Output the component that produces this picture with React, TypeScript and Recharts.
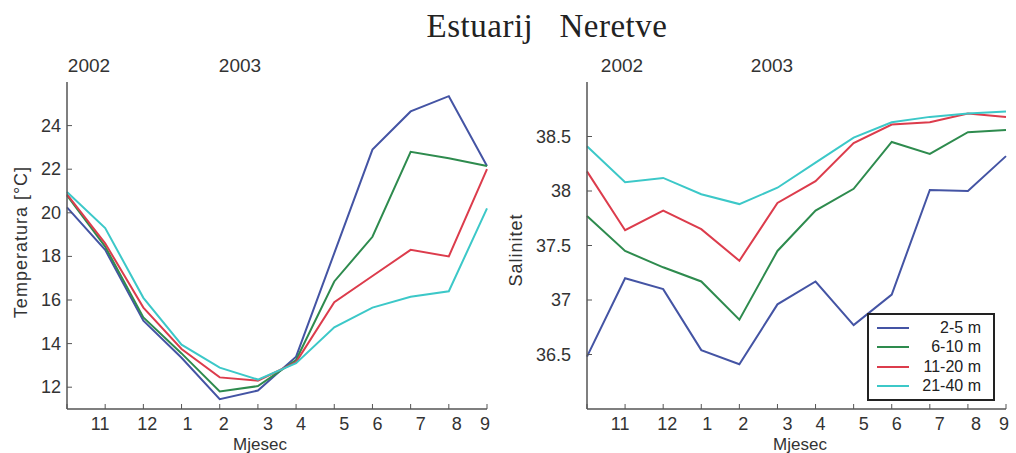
import React from 'react';
import { LineChart, Line, XAxis, YAxis, Legend } from 'recharts';

// months Oct 2002 .. Sep 2003, one sample per month
const monthLabels = ['', '11', '12', '1', '2', '3', '4', '5', '6', '7', '8', '9'];
const years = ['2002', '2003'];
const depthNames = ['2-5 m', '6-10 m', '11-20 m', '21-40 m'];

const temp2_5 = [20.25, 18.3, 15.05, 13.35, 11.45, 11.85, 13.4, 18.15, 22.9, 24.65, 25.35, 22.15];
const temp6_10 = [20.8, 18.45, 15.2, 13.55, 11.8, 12.05, 13.25, 16.85, 18.9, 22.8, 22.5, 22.15];
const temp11_20 = [20.85, 18.6, 15.65, 13.75, 12.45, 12.3, 13.15, 15.9, 17.1, 18.3, 18.0, 22.0];
const temp21_40 = [20.95, 19.3, 16.1, 13.95, 12.9, 12.35, 13.1, 14.75, 15.65, 16.15, 16.4, 20.2];

const sal2_5 = [36.48, 37.2, 37.1, 36.54, 36.41, 36.96, 37.17, 36.77, 37.05, 38.01, 38.0, 38.32];
const sal6_10 = [37.77, 37.45, 37.3, 37.17, 36.82, 37.45, 37.82, 38.02, 38.45, 38.34, 38.54, 38.56];
const sal11_20 = [38.18, 37.64, 37.82, 37.65, 37.36, 37.89, 38.09, 38.44, 38.61, 38.63, 38.71, 38.68];
const sal21_40 = [38.41, 38.08, 38.12, 37.97, 37.88, 38.03, 38.26, 38.49, 38.63, 38.68, 38.71, 38.73];

const tempTicks = [12, 14, 16, 18, 20, 22, 24];
const salTicks = [36.5, 37, 37.5, 38, 38.5];

const COLORS = ['#4454a4', '#2e8b4e', '#dc3c4c', '#3cc8c8'];
const FONT = '"Liberation Sans", Arial, Helvetica, sans-serif';
const AXIS = '#555';
const IDX = monthLabels.map((_, i) => i);
// month labels sit a little off the sample ticks in the original
const LABEL_NUDGE = [0, -5, 4, 6, 4, 10, 5, 10, 5, 10, 8, -2];

const tempData = IDX.map((i) => ({
  i,
  d0: temp2_5[i],
  d1: temp6_10[i],
  d2: temp11_20[i],
  d3: temp21_40[i],
}));
const salData = IDX.map((i) => ({
  i,
  d0: sal2_5[i],
  d1: sal6_10[i],
  d2: sal11_20[i],
  d3: sal21_40[i],
}));

const BottomTick = (props: any) => {
  const { x, y, payload } = props;
  const v = payload.value;
  return (
    <g>
      <line x1={x} x2={x} y1={y} y2={y - 5} stroke={AXIS} strokeWidth={1} />
      <text x={x + LABEL_NUDGE[v]} y={y + 15} textAnchor="middle" dominantBaseline="central"
        fontSize={18} fontFamily={FONT} fill="#333">
        {monthLabels[v]}
      </text>
    </g>
  );
};

const TopTick = (props: any) => {
  const { x, y } = props;
  return <line x1={x} x2={x} y1={y} y2={y + 5} stroke={AXIS} strokeWidth={1} />;
};

const makeLeftTick = (gap: number) => (props: any) => {
  const { x, y, payload } = props;
  return (
    <g>
      <line x1={x} x2={x + 5} y1={y} y2={y} stroke={AXIS} strokeWidth={1} />
      <text x={x - gap} y={y} textAnchor="end" dominantBaseline="central"
        fontSize={18} fontFamily={FONT} fill="#333">
        {payload.value}
      </text>
    </g>
  );
};

const RightTick = (props: any) => {
  const { x, y } = props;
  return <line x1={x} x2={x - 5} y1={y} y2={y} stroke={AXIS} strokeWidth={1} />;
};

const LegendBox = () => (
  <div style={{ border: '2px solid #222', background: '#fff', padding: '3px 12px 3px 8px', fontFamily: FONT, fontSize: 16, color: '#222' }}>
    {depthNames.map((n, k) => (
      <div key={n} style={{ display: 'flex', alignItems: 'center', height: 19.5 }}>
        <svg width={34} height={6}>
          <line x1={0} x2={32} y1={3} y2={3} stroke={COLORS[k]} strokeWidth={2} />
        </svg>
        <span style={{ flex: 1, textAlign: 'right' }}>{n}</span>
      </div>
    ))}
  </div>
);

const axisLine = { stroke: AXIS, strokeWidth: 1.5 };

const Panel = ({ data, domain, ticks, width, marginLeft, marginRight, gap, legend }: any) => (
  <LineChart width={width} height={453} data={data}
    margin={{ top: 82, right: marginRight, bottom: 14, left: marginLeft }}>
    <XAxis xAxisId="b" dataKey="i" type="number" domain={[0, 11]} ticks={IDX} height={30}
      axisLine={axisLine} tickLine={false} tickSize={0} tickMargin={0} tick={<BottomTick />} interval={0} />
    <XAxis xAxisId="t" orientation="top" dataKey="i" type="number" domain={[0, 11]} ticks={IDX} height={0}
      axisLine={axisLine} tickLine={false} tickSize={0} tickMargin={0} tick={<TopTick />} interval={0} />
    <YAxis yAxisId="l" domain={domain} ticks={ticks} width={60} allowDataOverflow
      axisLine={axisLine} tickLine={false} tickSize={0} tickMargin={0} tick={makeLeftTick(gap)} interval={0} />
    <YAxis yAxisId="r" orientation="right" domain={domain} ticks={ticks} width={0} allowDataOverflow
      axisLine={axisLine} tickLine={false} tickSize={0} tickMargin={0} tick={<RightTick />} interval={0} />
    {['d0', 'd1', 'd2', 'd3'].map((k, j) => (
      <Line key={k} xAxisId="b" yAxisId="l" dataKey={k} name={depthNames[j]} stroke={COLORS[j]}
        strokeWidth={2} dot={false} isAnimationActive={false} type="linear" />
    ))}
    {legend && (
      <Legend layout="vertical" align="center" verticalAlign="middle" content={<LegendBox />}
        wrapperStyle={{ left: 367, top: 313, width: 128 }} />
    )}
  </LineChart>
);

const txt = (extra: React.CSSProperties): React.CSSProperties => ({
  position: 'absolute',
  fontFamily: FONT,
  color: '#333',
  whiteSpace: 'pre',
  lineHeight: 1,
  transform: 'translate(-50%, -50%)',
  ...extra,
});

export default function App() {
  return (
    <div style={{ position: 'absolute', left: 0, top: 0, width: 1016, height: 453, background: '#fff', overflow: 'hidden' }}>
      <div style={{ position: 'absolute', left: 0, top: 0 }}>
        <Panel data={tempData} domain={[11, 26]} ticks={tempTicks} width={500} marginLeft={7} marginRight={13} gap={6} />
      </div>
      <div style={{ position: 'absolute', left: 500, top: 0 }}>
        <Panel data={salData} domain={[36, 39]} ticks={salTicks} width={516} marginLeft={27} marginRight={10} gap={16} legend />
      </div>

      <div style={txt({ left: 547, top: 26, fontFamily: '"Liberation Serif", "DejaVu Serif", serif', fontSize: 33, color: '#222', letterSpacing: 0.5 })}>
        {'Estuarij   Neretve'}
      </div>

      <div style={txt({ left: 89, top: 65, fontSize: 19 })}>{years[0]}</div>
      <div style={txt({ left: 240, top: 65, fontSize: 19 })}>{years[1]}</div>
      <div style={txt({ left: 622, top: 65, fontSize: 19 })}>{years[0]}</div>
      <div style={txt({ left: 772, top: 65, fontSize: 19 })}>{years[1]}</div>

      <div style={txt({ left: 260, top: 444, fontSize: 17 })}>Mjesec</div>
      <div style={txt({ left: 800, top: 444, fontSize: 17 })}>Mjesec</div>

      <div style={txt({ left: 21, top: 242, fontSize: 18, transform: 'translate(-50%, -50%) rotate(-90deg)', letterSpacing: 1 })}>
        Temperatura [°C]
      </div>
      <div style={txt({ left: 516, top: 250, fontSize: 18, transform: 'translate(-50%, -50%) rotate(-90deg)', letterSpacing: 1 })}>
        Salinitet
      </div>
    </div>
  );
}
